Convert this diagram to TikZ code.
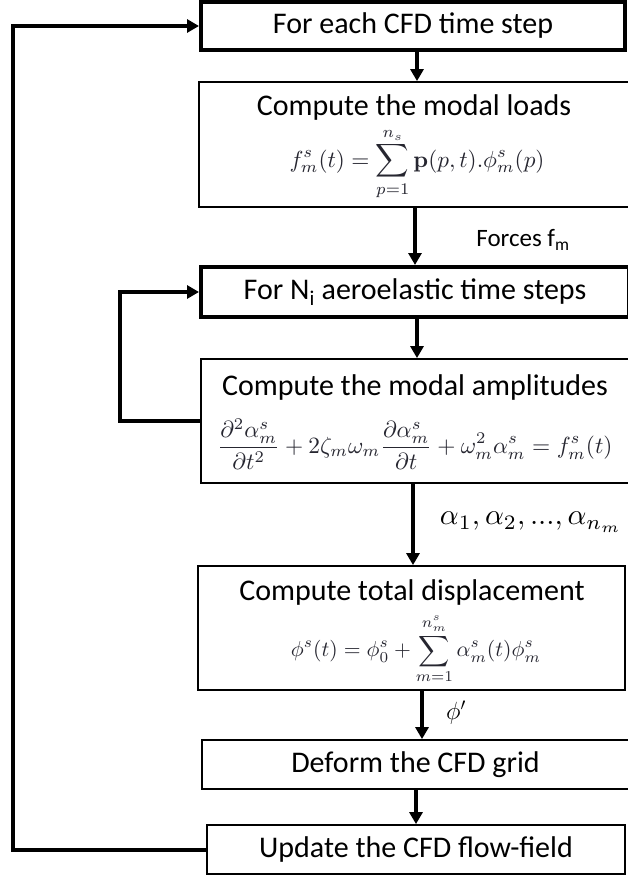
\documentclass[tikz,border=0pt]{standalone}
\usepackage[no-math]{fontspec}
\setmainfont{Carlito}
\usepackage{amsmath}
\usepackage{graphicx}
\usetikzlibrary{arrows.meta}
\definecolor{mathgray}{HTML}{262630}
\begin{document}
\begin{tikzpicture}[x=1pt,y=-1pt,
  thickbox/.style={draw, line width=4pt, inner sep=0pt, font=\fontsize{30}{36}\selectfont},
  thinbox/.style={draw, line width=1.8pt, inner sep=0pt, font=\fontsize{30}{36}\selectfont},
  boxtitle/.style={inner sep=0pt, font=\fontsize{30}{36}\selectfont},
  formula/.style={inner sep=0pt, text=mathgray},
  arr/.style={line width=4pt, -{Triangle[width=13pt,length=12pt]}},
  loopline/.style={line width=4pt, -{Triangle[width=13pt,length=12pt]}},
  lbl/.style={inner sep=0pt}]
\useasboundingbox (0,0) rectangle (627,877);

% boxes
\node[thickbox, minimum width=424pt, minimum height=48pt] (b1) at (413,26) {For each CFD time step};
\node[thinbox, minimum width=430pt, minimum height=125pt] (b2) at (414,144.5) {};
\node[thickbox, minimum width=428pt, minimum height=50pt] (b3) at (415,292) {For N\textsubscript{i} aeroelastic time steps};
\node[thinbox, minimum width=428pt, minimum height=124pt] (b4) at (415,421) {};
\node[thinbox, minimum width=427pt, minimum height=124pt] (b5) at (411.5,628) {};
\node[thinbox, minimum width=427pt, minimum height=49pt] (b6) at (415.5,764.5) {Deform the CFD grid};
\node[thinbox, minimum width=418pt, minimum height=49pt] (b7) at (416,849.5) {Update the CFD flow-field};

% titles and formulas inside the tall boxes
\node[boxtitle] (t2) at (414,108) {Compute the modal loads};
\node[formula] (f2) at (417,164) {\resizebox{255pt}{!}{$\displaystyle f^s_m(t) = \sum_{p=1}^{n_s} \mathbf{p}(p,t).\phi^s_m(p)$}};
\node[boxtitle] (t4) at (415,387) {Compute the modal amplitudes};
\node[formula] (f4) at (415,444) {\resizebox{395pt}{!}{$\displaystyle \frac{\partial^2\alpha^s_m}{\partial t^2} + 2\zeta_m\omega_m\frac{\partial\alpha^s_m}{\partial t} + \omega_m^2\alpha^s_m = f^s_m(t)$}};
\node[boxtitle] (t5) at (412,592) {Compute total displacement};
\node[formula] (f5) at (416,649) {\resizebox{250pt}{!}{$\displaystyle \phi^s(t) = \phi^s_0 + \sum_{m=1}^{n^s_m} \alpha^s_m(t)\phi^s_m$}};

% vertical connectors
\draw[arr] ([xshift=4pt]b1.south) -- ([xshift=4pt]b1.south |- b2.north);
\draw[arr] ([xshift=1pt]b2.south) -- ([xshift=1pt]b2.south |- b3.north);
\draw[arr] ([xshift=2pt]b3.south) -- ([xshift=2pt]b3.south |- b4.north);
\draw[arr] ([xshift=-2pt]b4.south) -- ([xshift=-2pt]b4.south |- b5.north);
\draw[arr] ([xshift=10.5pt]b5.south) -- ([xshift=10.5pt]b5.south |- b6.north);
\draw[arr] ([xshift=0.5pt]b6.south) -- ([xshift=0.5pt]b6.south |- b7.north);

% connector labels
\node[lbl, font=\fontsize{25}{30}\selectfont] (lf) at (523,240) {Forces f\textsubscript{m}};
\node[lbl] (la) at (531,522) {\resizebox{182pt}{!}{$\alpha_1, \alpha_2, ..., \alpha_{n_m}$}};
\node[lbl, font=\fontsize{24}{28}\selectfont] (lp) at (456,713) {$\phi'$};

% feedback loops
\coordinate (L1) at (13,0);
\coordinate (L2) at (120,0);
\draw[loopline] (b7.west) -- (b7.west -| L1) -- (b1.west -| L1) -- (b1.west);
\draw[loopline] (b4.west) -- (b4.west -| L2) -- (b3.west -| L2) -- (b3.west);
\end{tikzpicture}
\end{document}
